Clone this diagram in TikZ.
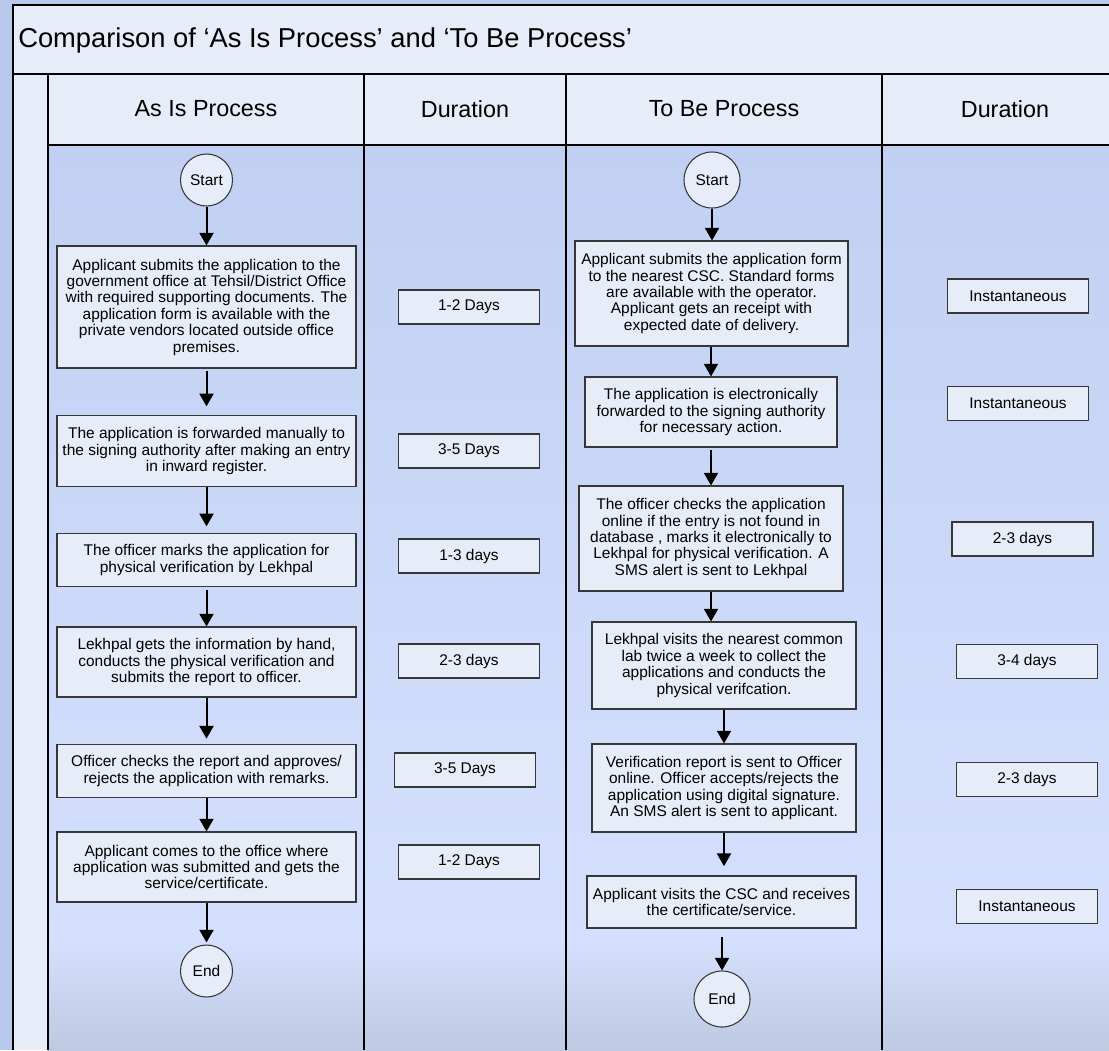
\documentclass[tikz,border=0pt]{standalone}
\usepackage{fontspec}
\setmainfont{Liberation Sans}
\usetikzlibrary{arrows.meta}
\definecolor{bgout}{RGB}{185,201,238}
\definecolor{pale}{RGB}{230,236,248}
\definecolor{bodytop}{RGB}{193,208,242}
\definecolor{bodymid}{RGB}{212,224,253}
\definecolor{bodybot}{RGB}{190,202,226}
\definecolor{edge}{RGB}{55,55,55}
\newcommand\bodyfont{\fontsize{11.6pt}{12.3pt}\selectfont}
\tikzset{
  frame/.style={draw=black, line width=1.1pt},
  procbox/.style={draw=edge, fill=pale, line width=0.8pt, align=center, inner sep=0pt, font=\bodyfont},
  durbox/.style={draw=edge, fill=pale, line width=0.8pt, align=center, inner sep=0pt, font=\bodyfont, minimum width=105.75pt, minimum height=25.5pt},
  term/.style={circle, draw=edge, fill=pale, line width=0.8pt, inner sep=0pt, font=\bodyfont},
  arr/.style={draw=black, line width=1.5pt, -{Triangle[length=9.5pt,width=10.5pt]}},
  headtxt/.style={font=\fontsize{17.5pt}{20pt}\selectfont, inner sep=0pt}
}
\begin{document}
\begin{tikzpicture}[x=0.75pt,y=-0.75pt]
\useasboundingbox (0,0) rectangle (1109,1050);
% backgrounds
\fill[bgout] (0,0) rectangle (1109,1050);
\fill[pale] (13,5) rectangle (1109,1050);
\shade[top color=bodytop, bottom color=bodymid] (48,145) rectangle (1109,940);
\shade[top color=bodymid, bottom color=bodybot] (48,940) rectangle (1109,1050);
% frame lines
\draw[frame] (13,1050) -- (13,5) -- (1109,5);
\draw[frame] (13,74) -- (1109,74);
\draw[frame] (48,145) -- (1109,145);
\draw[frame] (48,74) -- (48,1050);
\draw[frame] (364,74) -- (364,1050);
\draw[frame] (566,74) -- (566,1050);
\draw[frame] (882,74) -- (882,1050);
% title and headers
\node[anchor=west, inner sep=0pt, font=\fontsize{20.5pt}{24pt}\selectfont] (title) at (18,40) {Comparison of ‘As Is Process’ and ‘To Be Process’};
\node[headtxt] (h1) at (206,109) {As Is Process};
\node[headtxt] (h2) at (465,109) {Duration};
\node[headtxt] (h3) at (724,109) {To Be Process};
\node[headtxt] (h4) at (1005,109) {Duration};
% As Is column
\node[term, minimum size=39pt] (L0) at (206.5,180) {Start};
\node[procbox, minimum width=224.25pt, minimum height=91.5pt] (L1) at (206.5,307) {Applicant submits the application to the\\government office at Tehsil/District Office\\with required supporting documents. The\\application form is available with the\\private vendors located outside office\\premises.};
\node[procbox, minimum width=224.25pt, minimum height=53.25pt] (L2) at (206.5,451) {The application is forwarded manually to\\the signing authority after making an entry\\in inward register.};
\node[procbox, minimum width=224.25pt, minimum height=39.75pt] (L3) at (206.5,560) {The officer marks the application for\\physical verification by Lekhpal};
\node[procbox, minimum width=224.25pt, minimum height=52.5pt] (L4) at (206.5,662) {Lekhpal gets the information by hand,\\conducts the physical verification and\\submits the report to officer.};
\node[procbox, minimum width=224.25pt, minimum height=39.75pt] (L5) at (206.5,771) {Officer checks the report and approves/\\rejects the application with remarks.};
\node[procbox, minimum width=224.25pt, minimum height=52.5pt] (L6) at (206.5,867) {Applicant comes to the office where\\application was submitted and gets the\\service/certificate.};
\node[term, minimum size=39pt] (LE) at (206.5,971) {End};
\draw[arr] (L0) -- (L1);
\draw[arr, shorten <=1.5pt, shorten >=6.5pt] (L1) -- (L2);
\draw[arr, shorten >=5pt] (L2) -- (L3);
\draw[arr, shorten <=2pt] (L3) -- (L4);
\draw[arr, shorten >=4pt] (L4) -- (L5);
\draw[arr] (L5) -- (L6);
\draw[arr, shorten >=1.5pt] (L6) -- (LE);
% As Is durations
\node[durbox] (D1) at (469,307) {1-2 Days};
\node[durbox] (D2) at (469,451) {3-5 Days};
\node[durbox] (D3) at (469,556) {1-3 days};
\node[durbox] (D4) at (469,661) {2-3 days};
\node[durbox] (D5) at (465,770) {3-5 Days};
\node[durbox] (D6) at (469,862) {1-2 Days};
% To Be column
\node[term, minimum size=42pt] (R0) at (712,180) {Start};
\node[procbox, minimum width=204.75pt, minimum height=78.75pt] (R1) at (711.5,293.5) {Applicant submits the application form\\to the nearest CSC. Standard forms\\are available with the operator.\\Applicant gets an receipt with\\expected date of delivery.};
\node[procbox, minimum width=189pt, minimum height=52.5pt] (R2) at (711,412) {The application is electronically\\forwarded to the signing authority\\for necessary action.};
\node[procbox, minimum width=198pt, minimum height=78.75pt] (R3) at (711,538.5) {The officer checks the application\\online if the entry is not found in\\database , marks it electronically to\\Lekhpal for physical verification. A\\SMS alert is sent to Lekhpal};
\node[procbox, minimum width=198pt, minimum height=65.25pt] (R4) at (724,665.5) {Lekhpal visits the nearest common\\lab twice a week to collect the\\applications and conducts the\\physical verifcation.};
\node[procbox, minimum width=198pt, minimum height=66pt] (R5) at (724,788) {Verification report is sent to Officer\\online. Officer accepts/rejects the\\application using digital signature.\\An SMS alert is sent to applicant.};
\node[procbox, minimum width=201.75pt, minimum height=39pt] (R6) at (721.5,902) {Applicant visits the CSC and receives\\the certificate/service.};
\node[term, minimum size=42pt] (RE) at (722,999) {End};
\draw[arr] (R0) -- (R0 |- R1.north);
\draw[arr] (R2.north |- R1.south) -- (R2.north);
\draw[arr, shorten <=2pt] (R2) -- (R3);
\draw[arr] (R3.south) -- (R3.south |- R4.north);
\draw[arr] (R4) -- (R5);
\draw[arr, shorten >=7pt] (R5.south) -- (R5.south |- R6.north);
\draw[arr, shorten <=6.5pt] (RE.north |- R6.south) -- (RE.north);
% To Be durations
\node[durbox] (E1) at (1018,296) {Instantaneous};
\node[durbox] (E2) at (1018,403.5) {Instantaneous};
\node[durbox] (E3) at (1022.5,539) {2-3 days};
\node[durbox] (E4) at (1027,661.5) {3-4 days};
\node[durbox] (E5) at (1027,779.5) {2-3 days};
\node[durbox] (E6) at (1027,906.5) {Instantaneous};
\end{tikzpicture}
\end{document}
